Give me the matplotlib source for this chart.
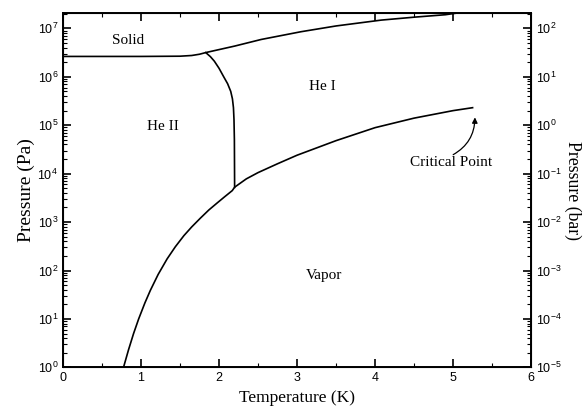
import numpy as np
import matplotlib
matplotlib.use("Agg")
import matplotlib.pyplot as plt
from matplotlib.ticker import LogLocator, FixedLocator, NullFormatter, FuncFormatter

# melting curve (solid boundary)
melt_T = [0.0, 1.0, 1.5, 1.65, 1.75, 1.83, 2.2, 2.54, 3.05, 3.5, 4.08, 4.5, 4.9, 5.5]
melt_P = [2.63e6, 2.63e6, 2.66e6, 2.75e6, 2.92e6, 3.16e6, 4.3e6, 5.89e6, 8.51e6, 1.12e7, 1.48e7, 1.7e7, 1.91e7, 2.63e7]

# lambda line (He I / He II)
lam_T = [1.83, 1.89, 1.94, 2.0, 2.06, 2.11, 2.15, 2.172, 2.185, 2.192, 2.197, 2.20]
lam_P = [3.16e6, 2.6e6, 2.1e6, 1.5e6, 1.0e6, 7.2e5, 5.0e5, 3.5e5, 2.3e5, 1.3e5, 5.0e4, 5.2e3]

# vapor pressure curve up to critical point
vap_T = [0.776, 0.84, 0.905, 0.97, 1.05, 1.12, 1.22, 1.335, 1.44, 1.55, 1.65, 1.76, 1.87, 1.98,
         2.07, 2.17, 2.20, 2.35, 2.5, 2.75, 3.0, 3.5, 4.0, 4.5, 5.0, 5.25]
vap_P = [1.0, 2.3, 5.0, 10, 21.4, 38.9, 83, 174, 309, 525, 794, 1200, 1780, 2510,
         3310, 4470, 5250, 7800, 1.05e4, 1.6e4, 2.4e4, 4.8e4, 8.9e4, 1.4e5, 2.0e5, 2.3e5]

region_labels = ["Solid", "He II", "He I", "Vapor"]
region_T = [0.83, 1.28, 3.33, 3.34]
region_P = [5.6e6, 9.5e4, 6.2e5, 78]

crit_xy = (5.28, 1.45e5)
crit_text_xy = (4.97, 1.7e4)

serif = "Liberation Serif"
sans = "Liberation Sans"
plt.rcParams["mathtext.default"] = "regular"
plt.rcParams["font.family"] = sans

fig = plt.figure(figsize=(5.83, 4.17), dpi=100)
ax = fig.add_axes([0.108, 0.119, 0.803, 0.849])

ax.semilogy(melt_T, melt_P, color="black", lw=1.2)
ax.semilogy(lam_T, lam_P, color="black", lw=1.2)
ax.semilogy(vap_T, vap_P, color="black", lw=1.2)

for lab, t, p in zip(region_labels, region_T, region_P):
    ax.text(t, p, lab, ha="center", va="center", fontsize=11, family=serif)

ax.annotate("Critical Point", xy=crit_xy, xytext=crit_text_xy,
            ha="center", va="center", fontsize=11, family=serif,
            arrowprops=dict(arrowstyle="-|>", color="black", lw=0.9,
                            mutation_scale=8, shrinkA=2, shrinkB=0,
                            relpos=(0.5, 1.0), patchA=None,
                            connectionstyle="arc3,rad=0.3"))

ax.set_xlim(0, 6)
ax.set_ylim(1, 2.04e7)

ax.set_xticks(range(7))
ax.xaxis.set_minor_locator(FixedLocator([0.5, 1.5, 2.5, 3.5, 4.5, 5.5]))
ax.yaxis.set_major_locator(FixedLocator([10.0**k for k in range(0, 8)]))
ax.yaxis.set_minor_locator(LogLocator(base=10, subs=np.arange(2, 10), numticks=20))
ax.yaxis.set_minor_formatter(NullFormatter())
ax.yaxis.set_major_formatter(FuncFormatter(lambda v, p: "$10^{%d}$" % round(np.log10(v))))

ax.tick_params(which="both", direction="in", top=True, right=False, labelsize=9)
ax.tick_params(which="major", length=6, width=1.2)
ax.tick_params(which="minor", length=3, width=0.8)
for s in ax.spines.values():
    s.set_linewidth(1.4)

ax.set_xlabel("Temperature (K)", family=serif, fontsize=12.5, labelpad=4)
ax.set_ylabel("Pressure (Pa)", family=serif, fontsize=14, labelpad=2)

# right axis in bar
ax2 = ax.twinx()
ax2.set_yscale("log")
ax2.set_ylim(1e-5, 2.04e2)
ax2.yaxis.set_major_locator(FixedLocator([10.0**k for k in range(-5, 3)]))
ax2.yaxis.set_minor_locator(LogLocator(base=10, subs=np.arange(2, 10), numticks=20))
ax2.yaxis.set_minor_formatter(NullFormatter())
ax2.yaxis.set_major_formatter(FuncFormatter(lambda v, p: "$10^{%d}$" % round(np.log10(v))))
ax2.tick_params(which="both", direction="in", labelsize=9)
ax2.tick_params(which="major", length=6, width=1.2)
ax2.tick_params(which="minor", length=3, width=0.8)
ax2.set_ylabel("Pressure (bar)", family=serif, fontsize=12.8, rotation=-90, labelpad=14)

fig.savefig("out.png", dpi=100)
